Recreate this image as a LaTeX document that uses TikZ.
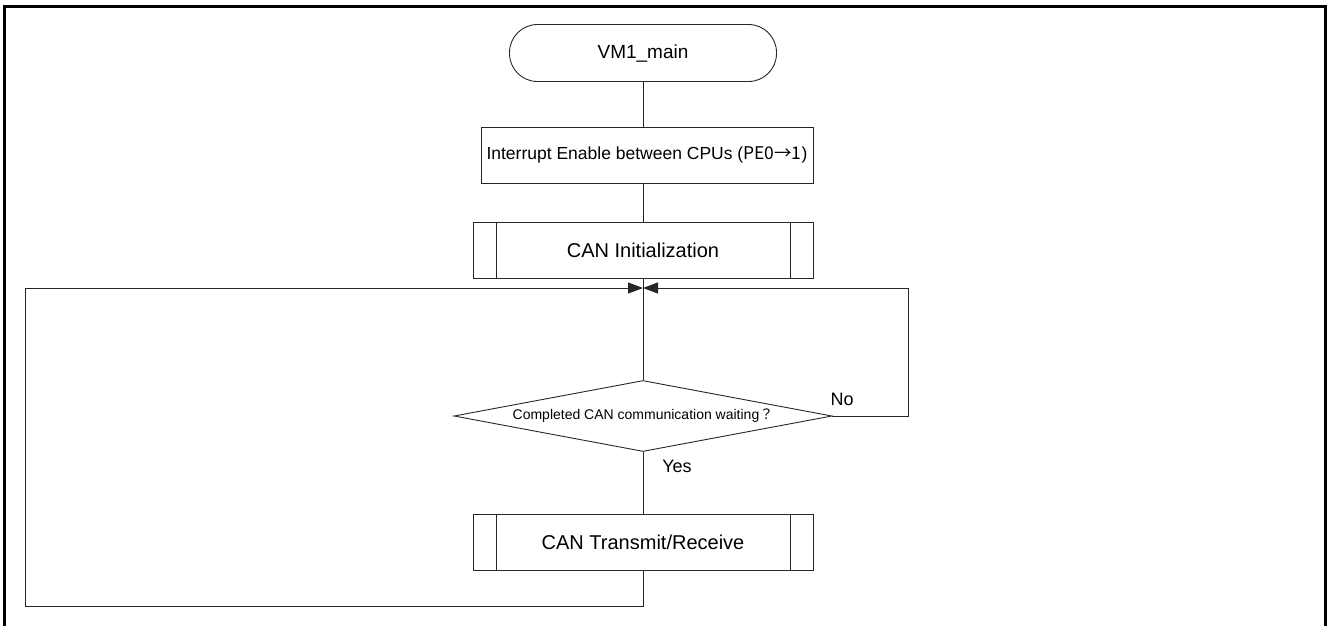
\documentclass[tikz,border=0pt]{standalone}
\usepackage{fontspec}
\setmainfont{Liberation Sans}
\newfontfamily\cjkfont{Noto Sans CJK JP}
\usetikzlibrary{shapes.geometric,arrows.meta}
\tikzset{
  conn/.style={draw=black!85, line width=0.9pt},
  tip/.style={-{Triangle[length=15pt,width=11pt]}},
  boxbase/.style={draw=black!85, line width=0.9pt, inner sep=0pt, align=center},
  terminal/.style={boxbase, rounded corners=28pt, minimum width=267pt, minimum height=57pt, font=\fontsize{19}{22}\selectfont},
  procbox/.style={boxbase, minimum width=332pt, minimum height=56pt, font=\fontsize{17.5}{20}\selectfont},
  subproc/.style={boxbase, minimum width=340pt, minimum height=56pt, font=\fontsize{20}{24}\selectfont,
    path picture={
      \draw[black!85, line width=0.9pt] ([xshift=23pt]path picture bounding box.north west) -- ([xshift=23pt]path picture bounding box.south west);
      \draw[black!85, line width=0.9pt] ([xshift=-23pt]path picture bounding box.north east) -- ([xshift=-23pt]path picture bounding box.south east);
    }},
  decision/.style={boxbase, shape=diamond, aspect=5.3, minimum width=378pt, minimum height=71pt, font=\fontsize{14}{16}\selectfont},
  lbl/.style={inner sep=0pt, font=\fontsize{18}{20}\selectfont}
}
\begin{document}
\begin{tikzpicture}[x=1pt,y=-1pt]
\useasboundingbox (0,0) rectangle (1327,625);
% outer frame (open at bottom)
\draw[line width=3pt] (4.5,626) -- (4.5,6.5) -- (1325.5,6.5) -- (1325.5,626);

\node[terminal] (start) at (643,53) {VM1\_main};
\node[procbox] (irq) at (647,155) {Interrupt Enable between CPUs ({\cjkfont PE0→1})};
\node[subproc] (init) at (643,250) {CAN Initialization};
\coordinate (j) at (643,288);
\node[decision] (dec) at (643,416) {\makebox[0pt]{Completed CAN communication waiting{\cjkfont ？}}};
\node[subproc] (txrx) at (643,542) {CAN Transmit/Receive};

\coordinate (bl) at (25,606);
\coordinate (rt) at (908,288);

\draw[conn] (start.south) -- (start.south |- irq.north);
\draw[conn] (irq.south -| init.north) -- (init.north);
\draw[conn] (init.south) -- (j);
\draw[conn] (j) -- (dec.north);
\draw[conn] (dec.south) -- (txrx.north);
\draw[conn, tip] (txrx.south) -- (txrx.south |- bl) -- (bl) -- (bl |- j) -- (j);
\draw[conn, tip] (dec.east) -- (dec.east -| rt) -- (rt) -- (j);

\node[lbl] (no) at (842,399) {No};
\node[lbl] (yes) at (677,466) {Yes};
\end{tikzpicture}
\end{document}
